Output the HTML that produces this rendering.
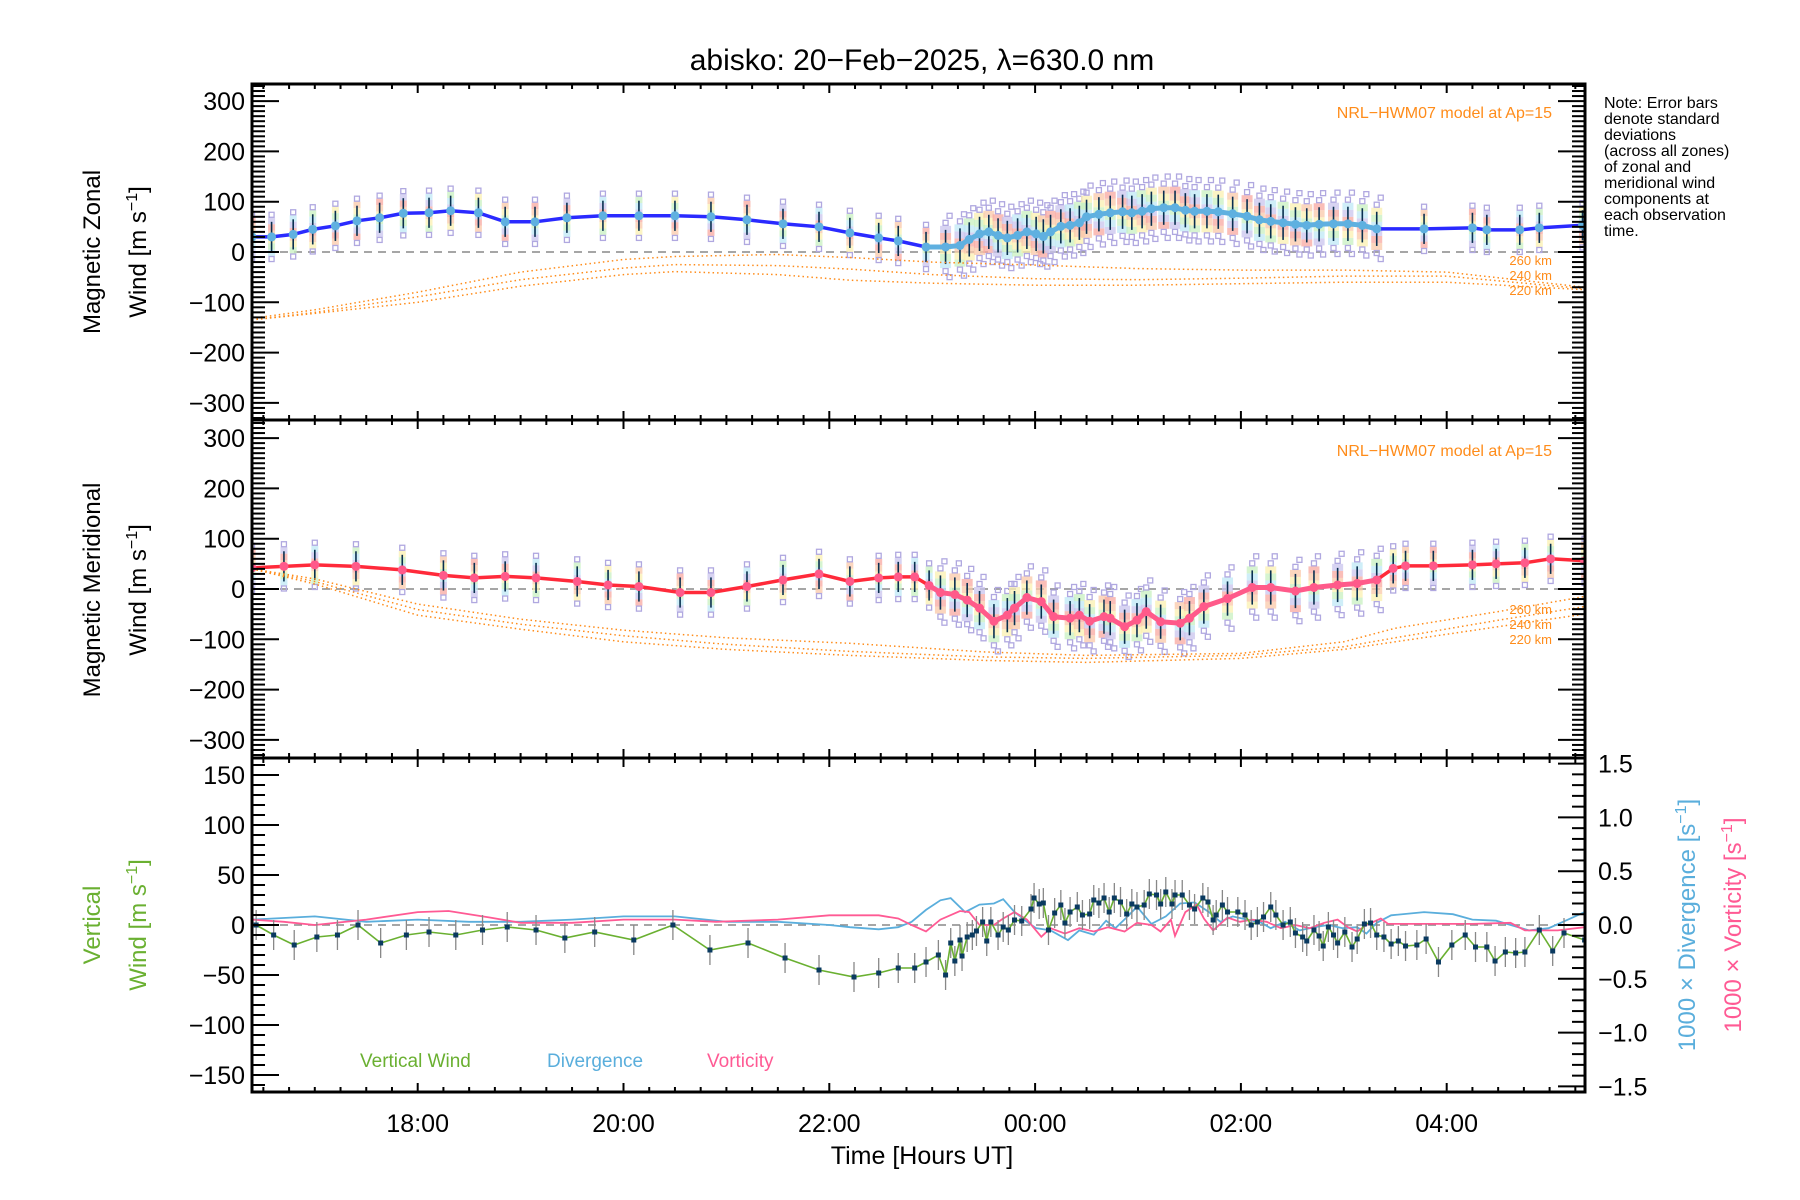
<!DOCTYPE html>
<html><head><meta charset="utf-8"><title>abisko winds</title>
<style>
html,body{margin:0;padding:0;background:#fff;}
svg{display:block;font-family:"Liberation Sans",sans-serif;}
</style></head>
<body>
<svg id="chart" width="1800" height="1200" viewBox="0 0 1800 1200" xmlns="http://www.w3.org/2000/svg">
<rect x="0" y="0" width="1800" height="1200" fill="#fff"/>
<text x="922" y="70" font-size="30" text-anchor="middle">abisko: 20−Feb−2025, λ=630.0 nm</text>
<g id="layers"></g>
<text transform="translate(100,252) rotate(-90)" font-size="24" text-anchor="middle">Magnetic Zonal</text>
<text transform="translate(146,252) rotate(-90)" font-size="24" text-anchor="middle">Wind [m s<tspan dy="-9" font-size="16">−1</tspan><tspan dy="9">]</tspan></text>
<text transform="translate(100,590) rotate(-90)" font-size="24" text-anchor="middle">Magnetic Meridional</text>
<text transform="translate(146,590) rotate(-90)" font-size="24" text-anchor="middle">Wind [m s<tspan dy="-9" font-size="16">−1</tspan><tspan dy="9">]</tspan></text>
<text transform="translate(100,925) rotate(-90)" font-size="24" fill="#6ab031" text-anchor="middle">Vertical</text>
<text transform="translate(146,925) rotate(-90)" font-size="24" fill="#6ab031" text-anchor="middle">Wind [m s<tspan dy="-9" font-size="16">−1</tspan><tspan dy="9">]</tspan></text>
<text transform="translate(1695,925) rotate(-90)" font-size="24" fill="#5aaedc" text-anchor="middle">1000 × Divergence [s<tspan dy="-9" font-size="16">−1</tspan><tspan dy="9">]</tspan></text>
<text transform="translate(1741,925) rotate(-90)" font-size="24" fill="#ff5a94" text-anchor="middle">1000 × Vorticity [s<tspan dy="-9" font-size="16">−1</tspan><tspan dy="9">]</tspan></text>
<text x="922" y="1164" font-size="25" text-anchor="middle">Time [Hours UT]</text>
<g font-size="16">
<text x="1604" y="108">Note: Error bars</text>
<text x="1604" y="124">denote standard</text>
<text x="1604" y="140">deviations</text>
<text x="1604" y="156">(across all zones)</text>
<text x="1604" y="172">of zonal and</text>
<text x="1604" y="188">meridional wind</text>
<text x="1604" y="204">components at</text>
<text x="1604" y="220">each observation</text>
<text x="1604" y="236">time.</text>
</g>
<text x="1552" y="118" font-size="16" fill="#ff8c1a" text-anchor="end">NRL−HWM07 model at Ap=15</text>
<text x="1552" y="456" font-size="16" fill="#ff8c1a" text-anchor="end">NRL−HWM07 model at Ap=15</text>
<g font-size="13" fill="#ff8c1a" text-anchor="end">
<text x="1552" y="265">260 km</text><text x="1552" y="280">240 km</text><text x="1552" y="295">220 km</text></g>
<g font-size="13" fill="#ff8c1a" text-anchor="end">
<text x="1552" y="614">260 km</text><text x="1552" y="629">240 km</text><text x="1552" y="644">220 km</text></g>
<text x="360" y="1067" font-size="19" fill="#6ab031">Vertical Wind</text>
<text x="547" y="1067" font-size="19" fill="#5aaedc">Divergence</text>
<text x="707" y="1067" font-size="19" fill="#ff5a94">Vorticity</text>
</svg>
<script>
// ---- data (hours UT, >24 means next day) ----
const zonalT = [16.39,16.58,16.79,16.98,17.2,17.41,17.63,17.86,18.11,18.32,18.59,18.85,19.14,19.45,19.8,20.15,20.5,20.85,21.2,21.55,21.9,22.2,22.48,22.67,22.94,23.13,23.27,23.36,23.46,23.55,23.64,23.73,23.83,23.92,24.01,24.08,24.15,24.25,24.34,24.43,24.5,24.62,24.73,24.85,24.94,25.04,25.13,25.25,25.36,25.46,25.55,25.67,25.78,25.92,26.06,26.18,26.29,26.41,26.53,26.64,26.76,26.9,27.04,27.18,27.32,27.78,28.25,28.39,28.71,28.9,29.32];
const zonalV = [30,30,35,45,52,62,68,77,78,82,78,60,60,68,72,72,72,70,64,56,50,38,28,22,10,10,13,25,36,40,33,28,33,40,36,31,40,51,53,58,70,75,78,80,78,81,86,88,88,83,81,81,80,76,71,64,61,58,55,53,55,56,56,53,46,46,48,44,44,48,53];
const meridT = [16.39,16.7,17.0,17.4,17.85,18.25,18.55,18.85,19.15,19.55,19.85,20.15,20.55,20.85,21.2,21.55,21.9,22.2,22.48,22.67,22.83,22.97,23.08,23.22,23.34,23.46,23.6,23.73,23.8,23.92,24.06,24.18,24.34,24.43,24.53,24.67,24.73,24.87,24.99,25.08,25.22,25.41,25.5,25.64,25.87,26.11,26.29,26.53,26.71,26.94,27.13,27.32,27.48,27.6,27.87,28.25,28.48,28.76,29.01,29.34];
const meridV = [42,45,48,45,38,27,22,25,22,15,8,5,-7,-7,5,18,30,15,22,24,24,7,-7,-11,-22,-38,-64,-52,-38,-17,-25,-55,-58,-52,-64,-55,-58,-75,-62,-45,-65,-68,-58,-35,-19,3,3,-4,3,8,11,18,41,46,46,48,50,52,60,56];
const denseStart = 23.0, denseEnd = 27.35;
const modelT = [16.39,17,18,19,20,20.5,21.5,22.2,23,24,25,26,27,28,29.34];
const zonal260 = [-132,-115,-80,-40,-15,-9,-5,-11,-20,-26,-33,-36,-36,-40,-70];
const zonal240 = [-135,-120,-89,-55,-32,-25,-27,-34,-45,-53,-55,-52,-48,-48,-73];
const zonal220 = [-135,-122,-100,-68,-45,-39,-45,-56,-62,-66,-66,-63,-60,-60,-75];
const merModelT = [16.39,17,18,19,20,21,22.2,23.5,24.5,26,27,27.5,28.5,29.34];
const merid260 = [40,20,-30,-60,-82,-97,-108,-125,-132,-128,-105,-78,-45,-15];
const merid240 = [40,15,-41,-70,-93,-110,-124,-135,-138,-132,-115,-97,-62,-35];
const merid220 = [40,10,-52,-80,-105,-120,-132,-142,-146,-138,-120,-105,-75,-50];
const vertT = [16.43,16.6,16.8,17.02,17.22,17.42,17.64,17.89,18.11,18.37,18.63,18.87,19.15,19.43,19.72,20.1,20.48,20.84,21.21,21.57,21.9,22.24,22.48,22.67,22.83,22.94,23.06,23.13,23.18,23.22,23.27,23.29,23.34,23.39,23.43,23.49,23.53,23.57,23.64,23.69,23.74,23.8,23.87,23.96,23.99,24.04,24.08,24.13,24.19,24.25,24.29,24.34,24.41,24.46,24.53,24.57,24.62,24.67,24.72,24.77,24.83,24.89,24.94,24.99,25.06,25.11,25.18,25.22,25.27,25.33,25.36,25.43,25.5,25.55,25.63,25.68,25.73,25.76,25.82,25.87,25.97,26.04,26.1,26.16,26.22,26.29,26.34,26.41,26.48,26.53,26.6,26.64,26.71,26.76,26.8,26.85,26.9,26.94,27.01,27.08,27.13,27.2,27.26,27.32,27.39,27.46,27.53,27.6,27.71,27.8,27.92,28.05,28.18,28.28,28.39,28.47,28.57,28.67,28.76,28.9,29.03,29.14,29.34];
const vertV = [0,-10,-20,-12,-10,0,-18,-10,-7,-10,-5,-2,-5,-13,-7,-15,0,-25,-18,-33,-45,-52,-48,-43,-43,-37,-30,-50,-18,-36,-15,-31,-12,-10,-6,3,-16,3,-10,-2,-5,5,4,16,27,21,22,-5,12,20,2,13,18,10,11,25,22,27,13,27,23,11,21,18,20,31,30,21,33,21,30,30,20,16,27,23,5,10,20,13,13,10,0,3,8,18,10,0,3,-8,-12,-16,-5,-11,-21,-2,-10,-18,-7,-22,-14,1,2,-10,-12,-19,-16,-21,-20,-14,-37,-20,-10,-22,-22,-36,-27,-28,-27,-5,-26,-8,-15];
const divT = [16.39,17.0,17.5,18.0,18.5,19.0,19.5,20.0,20.5,21.0,21.5,22.0,22.2,22.48,22.67,22.8,22.94,23.08,23.18,23.32,23.46,23.6,23.69,23.8,23.92,24.01,24.15,24.32,24.43,24.57,24.69,24.78,24.9,24.99,25.13,25.27,25.41,25.55,25.69,25.8,25.92,26.06,26.2,26.29,26.43,26.57,26.71,26.85,26.99,27.13,27.22,27.32,27.46,27.78,28.06,28.25,28.48,28.8,28.99,29.18,29.34];
const divV = [0.05,0.08,0.03,0.05,0.03,0.03,0.05,0.08,0.08,0.03,0.03,0.0,-0.02,-0.04,-0.02,0.03,0.14,0.23,0.25,0.12,0.19,0.2,0.24,0.12,0.03,-0.03,-0.05,-0.14,-0.05,-0.09,0.04,-0.03,0.08,0.17,0.01,0.08,0.2,0.21,0.12,0.03,0.08,0.05,0.02,-0.03,0.03,-0.05,-0.02,0,-0.03,-0.02,-0.08,0.02,0.09,0.12,0.1,0.05,0.04,-0.05,-0.03,0.05,0.12];
const vortT = [16.39,16.7,17.0,17.5,18.0,18.3,18.7,19.0,19.5,20.0,20.5,20.9,21.5,22.0,22.2,22.48,22.67,22.8,22.94,23.08,23.27,23.36,23.46,23.6,23.69,23.8,23.92,24.06,24.15,24.29,24.43,24.57,24.71,24.87,24.99,25.13,25.22,25.32,25.36,25.46,25.57,25.64,25.73,25.87,25.99,26.11,26.25,26.39,26.53,26.67,26.81,26.94,27.04,27.13,27.22,27.36,27.43,27.78,28.25,28.62,28.76,29.08,29.34];
const vortV = [0.05,0.03,0.0,0.05,0.12,0.13,0.07,0.02,0.02,0.05,0.05,0.03,0.05,0.09,0.09,0.09,0.06,0,-0.06,0.05,0.13,0.12,0,0,0.06,0.12,0.05,-0.11,-0.03,-0.08,-0.03,-0.06,-0.02,-0.06,0.02,0,-0.06,0.05,-0.1,0.12,0.19,0.06,-0.05,0.07,0.03,0.05,0.03,-0.03,0,-0.03,0.02,0.05,-0.02,-0.06,0,0.06,0.01,0.01,0.01,0.02,-0.05,-0.05,-0.02];
const xTickLabels = ["18:00","20:00","22:00","00:00","02:00","04:00"];
const xTickHours = [18,20,22,24,26,28];
const windTicks = [300,200,100,0,-100,-200,-300];
const vertTicks = [150,100,50,0,-50,-100,-150];
const rightTicks = [1.5,1.0,0.5,0.0,-0.5,-1.0,-1.5];

// ---- axes ----
const L=252,R=1585,H0=18,PXH=102.9;
const X=h=>417.7+(h-H0)*PXH;
const P1={top:84,bot:420,zero:252,k:0.503};
const P2={top:420,bot:758,zero:589,k:0.503};
const P3={top:758,bot:1092,zero:925,k:1.0,kr:107.6};
const Y=(p,v)=>p.zero-v*p.k;
const YR=v=>P3.zero-v*P3.kr;

const NS='http://www.w3.org/2000/svg';
const root=document.getElementById('layers');
function mk(tag,attrs,parent){const e=document.createElementNS(NS,tag);for(const k in attrs)e.setAttribute(k,attrs[k]);(parent||root).appendChild(e);return e;}
function grp(name){const g=mk('g',{});


return g;}
function pathD(ts,vs,yf){return ts.map((t,i)=>(i?'L':'M')+X(t).toFixed(1)+','+yf(vs[i]).toFixed(1)).join('');}

const defs=mk('defs',{});
[P1,P2,P3].forEach((p,i)=>{const c=mk('clipPath',{id:'clip'+i},defs);mk('rect',{x:L,y:p.top,width:R-L,height:p.bot-p.top},c);});

[P1,P2,P3].forEach((p,i)=>{const l=mk('line',{x1:L,x2:R,y1:p.zero,y2:p.zero,stroke:'#888','stroke-width':1.5,'stroke-dasharray':'8,6'});

});

function windPanel(p,ci,T,V,mT,m1,m2,m3,sparseCol,denseCol,name){
  const g=grp(name+'-series'); g.setAttribute('clip-path','url(#clip'+ci+')');
  const pastel=['#c9c4ee','#bfe8f5','#c8f0c0','#fbf0b0','#f9c8a8','#f8a8a0'];
  T.forEach((t,i)=>{
    const dense=t>denseStart&&t<denseEnd; const w=dense?11:7; const err=dense?34:30;
    for(let k=0;k<6;k++){const lo=V[i]-err-8+k*((2*err+16)/6);
      const r=mk('rect',{x:X(t)-w/2,y:Y(p,lo+(2*err+16)/6),width:w,height:((2*err+16)/6)*p.k,fill:pastel[(k+i)%6],opacity:0.75},g);
      
      }
    [V[i]+err+14,V[i]-err-14,V[i]+err+28,V[i]-err-26].forEach((v,j)=>{if(j>1&&!dense)return;const s=mk('rect',{x:X(t)-2.5+(j>1?4:0),y:Y(p,v)-2.5,width:5,height:5,fill:'none',stroke:'#b0a8e0','stroke-width':1.3},g);
      
      });
    const e=mk('line',{x1:X(t),x2:X(t),y1:Y(p,V[i]+err),y2:Y(p,V[i]-err),stroke:'#0a3050','stroke-width':1.6},g);
    
    
  });
  [[m1,'model-260km'],[m2,'model-240km'],[m3,'model-220km']].forEach(([m,n])=>{
    const pl=mk('path',{d:pathD(mT,m,v=>Y(p,v)),fill:'none',stroke:'#ff8c1a','stroke-width':1.5,'stroke-dasharray':'1.5,3'},g);
    
    });
  const ln=mk('path',{d:pathD(T,V,v=>Y(p,v)),fill:'none',stroke:sparseCol,'stroke-width':3.5},g);
  
  
  const dT=[],dV=[];T.forEach((t,i)=>{if(t>=denseStart-0.1&&t<=denseEnd){dT.push(t);dV.push(V[i]);}});
  const dl=mk('path',{d:pathD(dT,dV,v=>Y(p,v)),fill:'none',stroke:denseCol,'stroke-width':5},g);
  
  
  T.forEach((t,i)=>{const d=mk('circle',{cx:X(t),cy:Y(p,V[i]),r:4.5,fill:denseCol},g);
    
    });
}
windPanel(P1,0,zonalT,zonalV,modelT,zonal260,zonal240,zonal220,'#2a2aff','#5fb0e0','zonal');
windPanel(P2,1,meridT,meridV,merModelT,merid260,merid240,merid220,'#ff2a3a','#ff5a8a','meridional');

const g3=grp('vertical-panel-series'); g3.setAttribute('clip-path','url(#clip2)');
const dv=mk('path',{d:pathD(divT,divV,YR),fill:'none',stroke:'#5aaedc','stroke-width':1.8},g3);


const vo=mk('path',{d:pathD(vortT,vortV,YR),fill:'none',stroke:'#ff5a94','stroke-width':1.8},g3);


vertT.forEach((t,i)=>{const e=mk('line',{x1:X(t),x2:X(t),y1:Y(P3,vertV[i]+15),y2:Y(P3,vertV[i]-15),stroke:'#888','stroke-width':1.3},g3);
  
  });
const vl=mk('path',{d:pathD(vertT,vertV,v=>Y(P3,v)),fill:'none',stroke:'#6ab031','stroke-width':1.6},g3);


vertT.forEach((t,i)=>{const d=mk('rect',{x:X(t)-2.5,y:Y(P3,vertV[i])-2.5,width:5,height:5,fill:'#0a3a60'},g3);
  
  });

const ax=grp('axes');
function tick(x1,y1,x2,y2,w){mk('line',{x1,y1,x2,y2,stroke:'#000','stroke-width':w||2},ax);}
[P1,P2].forEach(p=>{
  for(let v=-330;v<=330;v+=10){const y=Y(p,v);if(y<p.top+1||y>p.bot-1)continue;const maj=v%100===0;const len=maj?27:13;
    tick(L,y,L+len,y);tick(R,y,R-len,y);}
  windTicks.forEach(v=>{const t=mk('text',{x:245,y:Y(p,v)+9,'font-size':25,'text-anchor':'end'},ax);t.textContent=(v<0?'−':'')+Math.abs(v);
    
    });
});
for(let v=-160;v<=160;v+=10){const y=Y(P3,v);if(y<P3.top+1||y>P3.bot-1)continue;tick(L,y,L+(v%50===0?27:13),y);}
for(let v=-1.6;v<=1.61;v+=0.1){const y=YR(v);if(y<P3.top+1||y>P3.bot-1)continue;const maj=Math.abs(Math.round(v*10))%5===0;tick(R,y,R-(maj?27:13),y);}
vertTicks.forEach(v=>{const t=mk('text',{x:245,y:Y(P3,v)+9,'font-size':25,'text-anchor':'end'},ax);t.textContent=(v<0?'−':'')+Math.abs(v);
  
  });
rightTicks.forEach(v=>{const t=mk('text',{x:1598,y:YR(v)+9,'font-size':25},ax);t.textContent=(v<0?'−':'')+Math.abs(v).toFixed(1);
  
  });
[P1,P2,P3].forEach(p=>{
  for(let h=16.5;h<29.35;h+=0.25){const x=X(h);const maj=Math.abs(h-Math.round(h))<0.01&&Math.round(h)%2===0;const len=maj?9:5;
    tick(x,p.top,x,p.top+len);tick(x,p.bot,x,p.bot-len);}
  mk('rect',{x:L,y:p.top,width:R-L,height:p.bot-p.top,fill:'none',stroke:'#000','stroke-width':3},ax);
});
xTickLabels.forEach((s,i)=>{const t=mk('text',{x:X(xTickHours[i]),y:1132,'font-size':25,'text-anchor':'middle'},ax);t.textContent=s;
  
  });
</script>
</body></html>
